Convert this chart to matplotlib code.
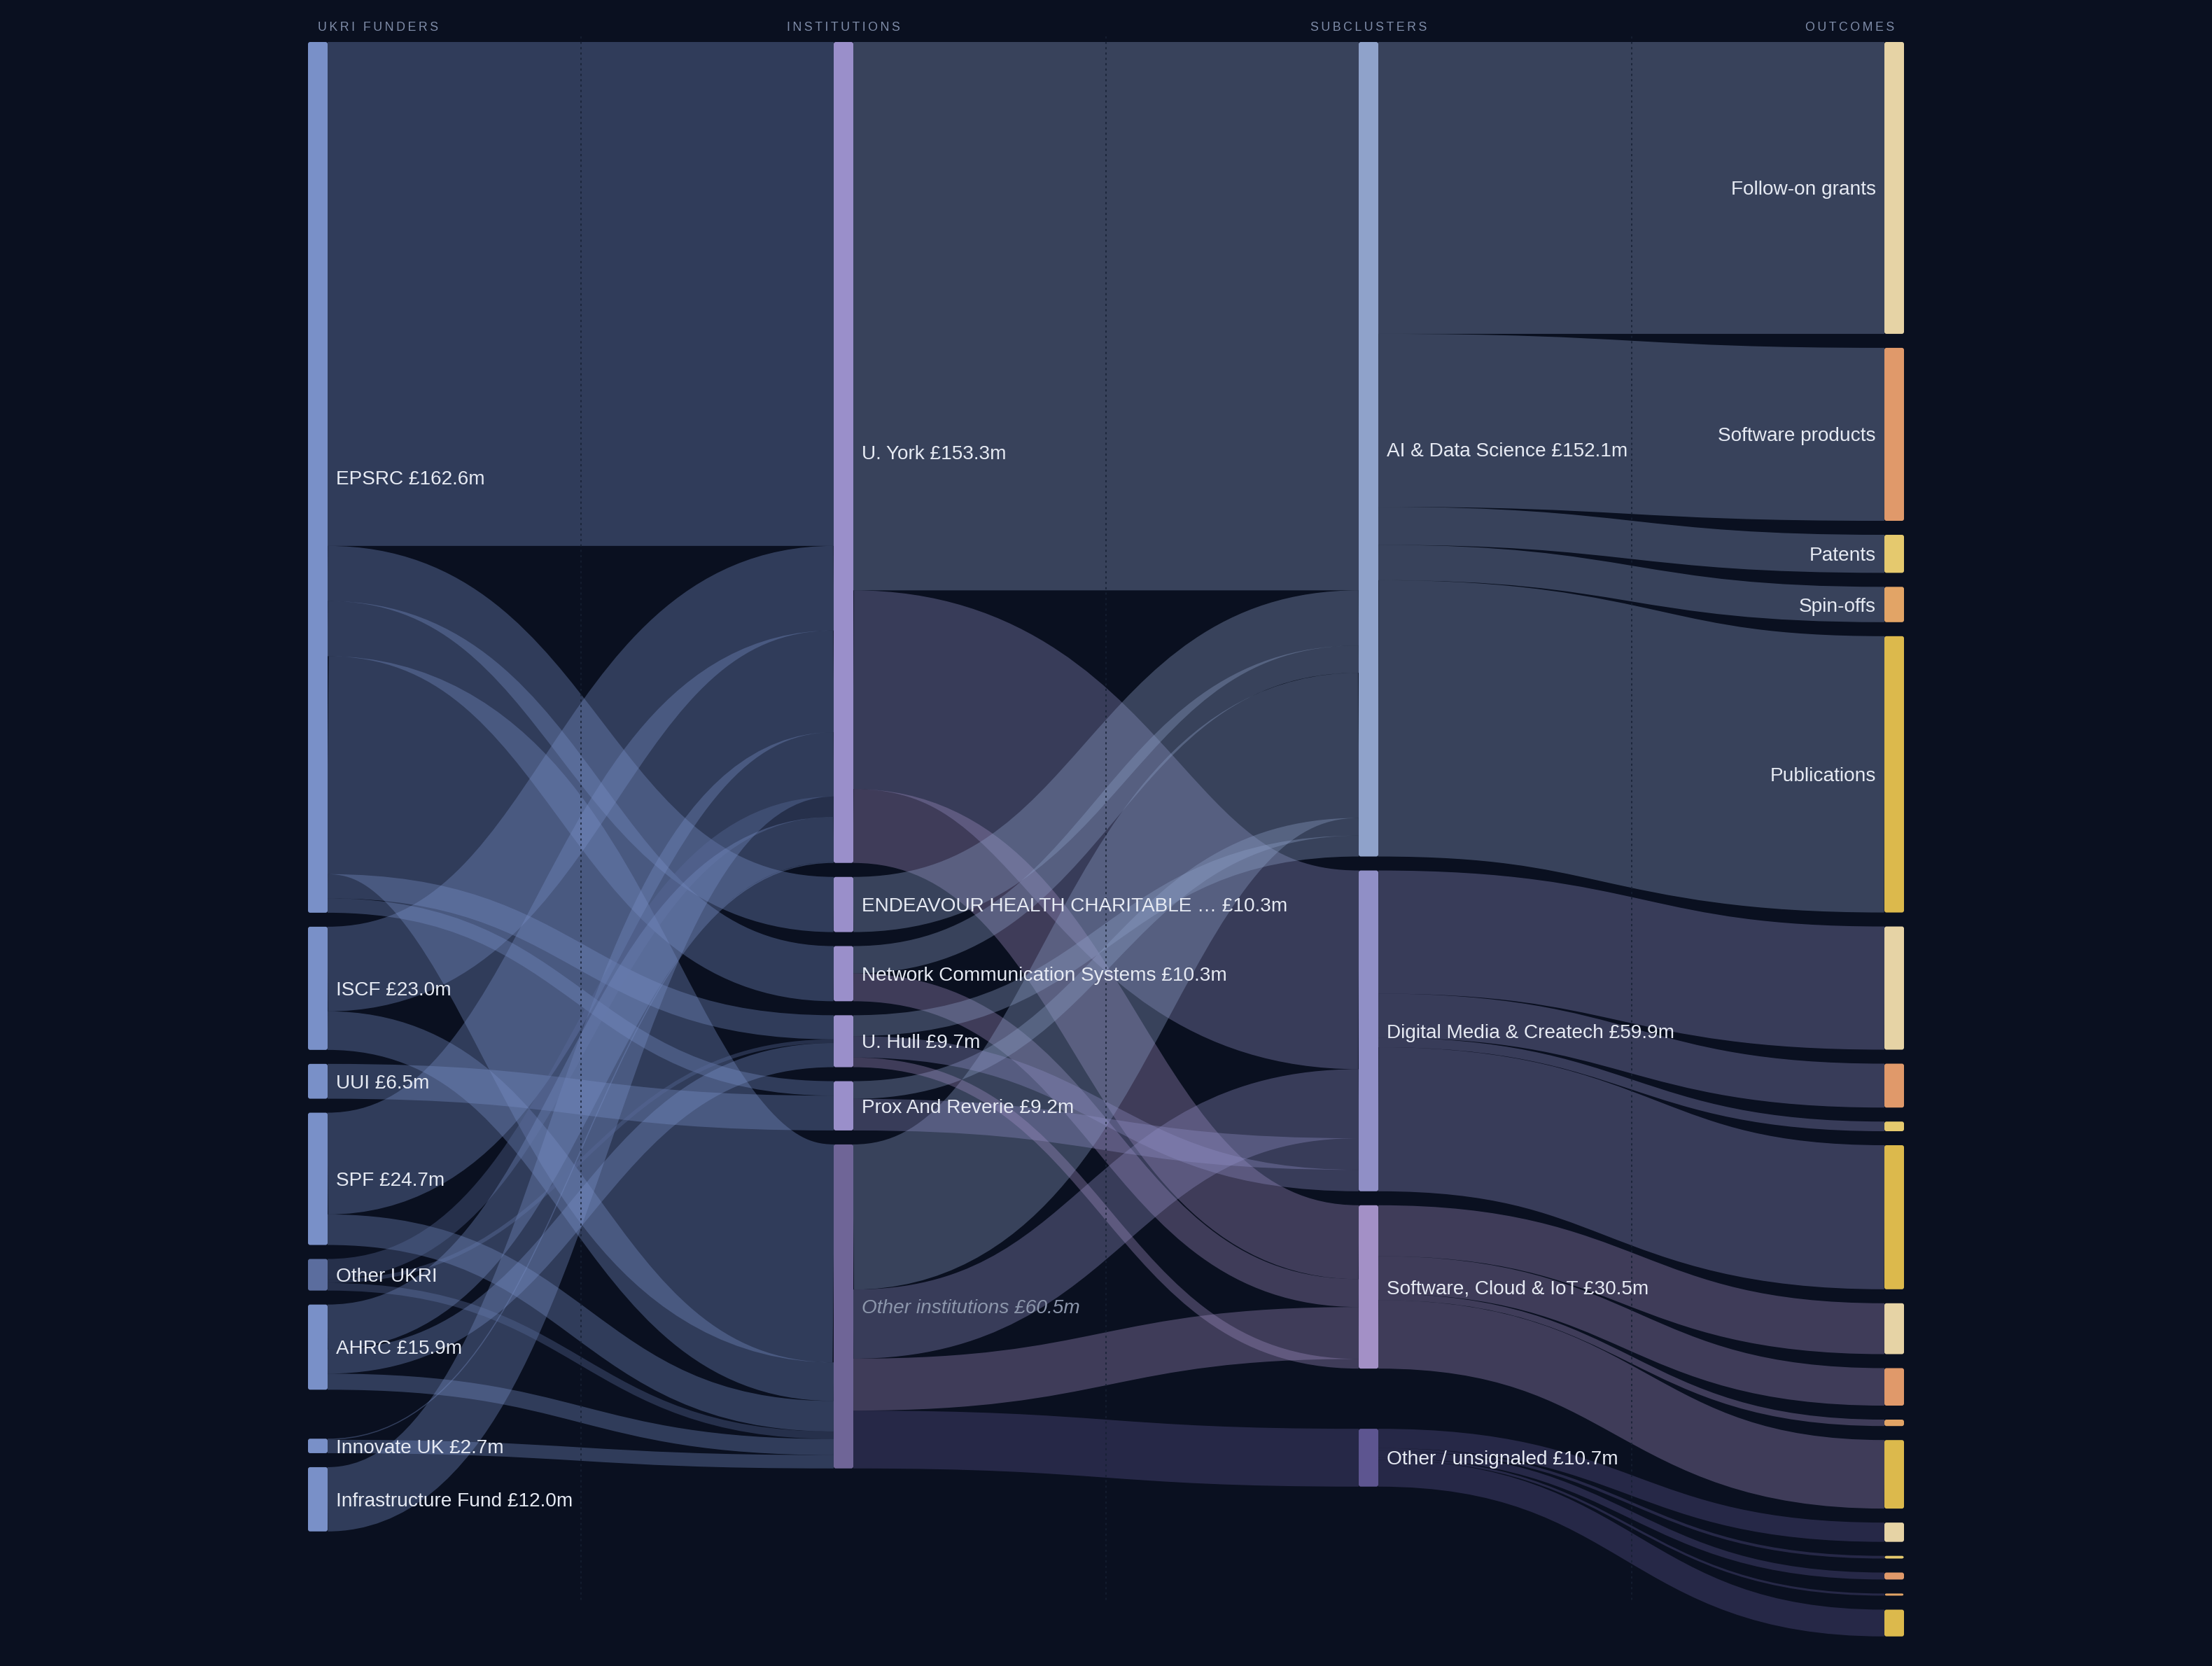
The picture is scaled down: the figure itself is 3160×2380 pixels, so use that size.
import matplotlib
matplotlib.use("Agg")
import matplotlib.pyplot as plt
from matplotlib.path import Path
from matplotlib.patches import PathPatch, FancyBboxPatch

# ---------------- data (values in £m) ----------------
funders = ["EPSRC", "ISCF", "UUI", "SPF", "Other UKRI", "AHRC", "Innovate UK", "Infrastructure Fund"]
funder_labels = ["EPSRC £162.6m", "ISCF £23.0m", "UUI £6.5m", "SPF £24.7m", "Other UKRI",
                 "AHRC £15.9m", "Innovate UK £2.7m", "Infrastructure Fund £12.0m"]

institutions = ["U. York", "ENDEAVOUR", "Network", "U. Hull", "Prox", "Other inst"]
institution_labels = ["U. York £153.3m", "ENDEAVOUR HEALTH CHARITABLE … £10.3m",
                      "Network Communication Systems £10.3m", "U. Hull £9.7m",
                      "Prox And Reverie £9.2m", "Other institutions £60.5m"]

subclusters = ["AI", "DM", "SW", "OU"]
subcluster_labels = ["AI & Data Science £152.1m", "Digital Media & Createch £59.9m",
                     "Software, Cloud & IoT £30.5m", "Other / unsignaled £10.7m"]

outcome_types = ["Follow-on grants", "Software products", "Patents", "Spin-offs", "Publications"]

# funder -> institution flows (listed in stacking order)
fi_source = ["EPSRC", "EPSRC", "EPSRC", "EPSRC", "EPSRC", "EPSRC",
             "ISCF", "ISCF", "UUI", "SPF", "SPF", "Infrastructure Fund",
             "Other UKRI", "Other UKRI", "Other UKRI", "AHRC", "AHRC", "AHRC",
             "Innovate UK", "Innovate UK"]
fi_target = ["U. York", "ENDEAVOUR", "Network", "Other inst", "U. Hull", "Prox",
             "U. York", "Other inst", "Prox", "U. York", "Other inst", "U. York",
             "U. York", "U. Hull", "Other inst", "U. York", "U. Hull", "Other inst",
             "U. York", "Other inst"]
fi_value = [94.1, 10.3, 10.3, 40.7, 4.5, 2.7,
            15.8, 7.2, 6.5, 19.0, 5.7, 12.0,
            3.8, 0.7, 1.4, 8.4, 4.5, 3.0,
            0.2, 2.5]

# institution -> subcluster flows
is_source = ["U. York", "U. York", "U. York", "ENDEAVOUR", "Network", "Network",
             "Other inst", "Other inst", "Other inst", "Other inst",
             "Prox", "Prox", "U. Hull", "U. Hull", "U. Hull"]
is_target = ["AI", "DM", "SW", "AI", "AI", "SW",
             "AI", "DM", "SW", "OU",
             "AI", "DM", "AI", "DM", "SW"]
is_value = [102.4, 37.1, 13.8, 10.3, 5.1, 5.2,
            27.1, 12.9, 9.7, 10.8,
            3.3, 5.9, 3.9, 4.0, 1.8]

# subcluster -> outcome flows
ai_outcomes = ["Follow-on grants", "Software products", "Patents", "Spin-offs", "Publications"]
ai_values = [54.5, 32.3, 7.1, 6.6, 51.6]
dm_outcomes = ["Follow-on grants", "Software products", "Patents", "Publications"]
dm_values = [23.0, 8.2, 1.8, 26.9]
sw_outcomes = ["Follow-on grants", "Software products", "Spin-offs", "Publications"]
sw_values = [9.5, 7.0, 1.2, 12.8]
ou_outcomes = ["Follow-on grants", "Patents", "Software products", "Spin-offs", "Publications"]
ou_values = [3.6, 0.5, 1.3, 0.4, 5.0]

headers = ["UKRI FUNDERS", "INSTITUTIONS", "SUBCLUSTERS", "OUTCOMES"]

# ---------------- style / layout ----------------
BG = "#0a1020"
K = 7.65          # px per £m
TOP = 60
GAP = 20
NODE_W = 28
COL_X = [440, 1191, 1941, 2692]
ALPHA = 0.35
FONT = ["Liberation Sans", "DejaVu Sans"]
LABEL_SIZE = 20.2
TEXT_COLOR = "#e6eaf3"

funder_colors = ["#7990c8", "#7990c8", "#7990c8", "#7990c8", "#5b6d9e", "#7990c8", "#7990c8", "#7990c8"]
inst_colors = ["#9a8fca", "#9a8fca", "#9a8fca", "#9a8fca", "#9a8fca", "#6f6597"]
sub_colors = ["#8fa2ca", "#908fc6", "#a390c6", "#5d5590"]
outcome_colors = {"Follow-on grants": "#e6d3a5", "Software products": "#e0996a",
                  "Patents": "#e5c96e", "Spin-offs": "#e2a466", "Publications": "#dcb94c"}
extra_gap = {"Innovate UK": 50, "OU": 66}

# ---------------- build graph ----------------
nodes = {}
columns = [[], [], [], []]


def add_node(nid, col, color, label, style="normal", label_color=TEXT_COLOR):
    nodes[nid] = dict(col=col, color=color, label=label, style=style, lc=label_color,
                      vin=0.0, vout=0.0)
    columns[col].append(nid)


for f, lab, c in zip(funders, funder_labels, funder_colors):
    add_node(f, 0, c, lab)
for i, lab, c in zip(institutions, institution_labels, inst_colors):
    if i == "Other inst":
        add_node(i, 1, c, lab, style="italic", label_color="#8c96ab")
    else:
        add_node(i, 1, c, lab)
for s, lab, c in zip(subclusters, subcluster_labels, sub_colors):
    add_node(s, 2, c, lab)

links = []  # (src, tgt, value, color)
for s, t, v in zip(fi_source, fi_target, fi_value):
    links.append((s, t, v, nodes[s]["color"]))
for s, t, v in zip(is_source, is_target, is_value):
    links.append((s, t, v, nodes[t]["color"]))

groups = [("AI", ai_outcomes, ai_values, True), ("DM", dm_outcomes, dm_values, False),
          ("SW", sw_outcomes, sw_values, False), ("OU", ou_outcomes, ou_values, False)]
for sub, outs, vals, show in groups:
    for o, v in zip(outs, vals):
        nid = sub + ":" + o
        add_node(nid, 3, outcome_colors[o], o if show else "")
        links.append((sub, nid, v, nodes[sub]["color"]))

for s, t, v, _ in links:
    nodes[s]["vout"] += v
    nodes[t]["vin"] += v

for col, ids in enumerate(columns):
    y = TOP
    for nid in ids:
        y += extra_gap.get(nid, 0)
        n = nodes[nid]
        n["y"] = y
        n["h"] = max(n["vin"], n["vout"]) * K
        n["x"] = COL_X[col]
        n["so"] = 0.0
        n["to"] = 0.0
        y += n["h"] + GAP

# ---------------- draw ----------------
fig = plt.figure(figsize=(31.6, 23.8), dpi=100)
fig.patch.set_facecolor(BG)
ax = fig.add_axes([0, 0, 1, 1])
ax.set_facecolor(BG)
ax.set_xlim(0, 3160)
ax.set_ylim(2380, 0)
ax.axis("off")

for s, t, v, c in links:
    ns, nt = nodes[s], nodes[t]
    w = v * K
    y0 = ns["y"] + ns["so"] + w / 2
    y1 = nt["y"] + nt["to"] + w / 2
    ns["so"] += w
    nt["to"] += w
    x0 = ns["x"] + NODE_W
    x1 = nt["x"]
    xm = (x0 + x1) / 2
    path = Path([(x0, y0), (xm, y0), (xm, y1), (x1, y1)],
                [Path.MOVETO, Path.CURVE4, Path.CURVE4, Path.CURVE4])
    ax.add_patch(PathPatch(path, facecolor="none", edgecolor=c, lw=w * 72 / 100,
                           alpha=ALPHA, capstyle="butt", zorder=2))

# faint dotted guides between columns
for i in range(3):
    xm = (COL_X[i] + NODE_W + COL_X[i + 1]) / 2
    ax.plot([xm, xm], [52, 2290], color="#162033", lw=1.1, ls=(0, (2, 3)), zorder=3)

for nid, n in nodes.items():
    ax.add_patch(FancyBboxPatch((n["x"], n["y"]), NODE_W, n["h"],
                                boxstyle="round,pad=0,rounding_size=3",
                                facecolor=n["color"], edgecolor="none", zorder=4))
    if n["label"]:
        cy = n["y"] + n["h"] / 2
        if n["col"] == 3:
            ax.text(n["x"] - 12, cy, n["label"], ha="right", va="center_baseline",
                    fontsize=LABEL_SIZE, color=n["lc"], family=FONT, zorder=5)
        else:
            ax.text(n["x"] + NODE_W + 12, cy, n["label"], ha="left", va="center_baseline",
                    fontsize=LABEL_SIZE, color=n["lc"], style=n["style"], family=FONT, zorder=5)

# column headers (letter-spaced)
aligns = ["left", "center", "center", "right"]
for i, (h, al) in enumerate(zip(headers, aligns)):
    spaced = "\u2009".join(list(h))
    ax.text(COL_X[i] + NODE_W / 2, 37, spaced, ha=al, va="center_baseline", fontsize=12.8,
            color="#7f8ca8", family=FONT, zorder=5)

fig.savefig("out.png", dpi=100, facecolor=BG)
